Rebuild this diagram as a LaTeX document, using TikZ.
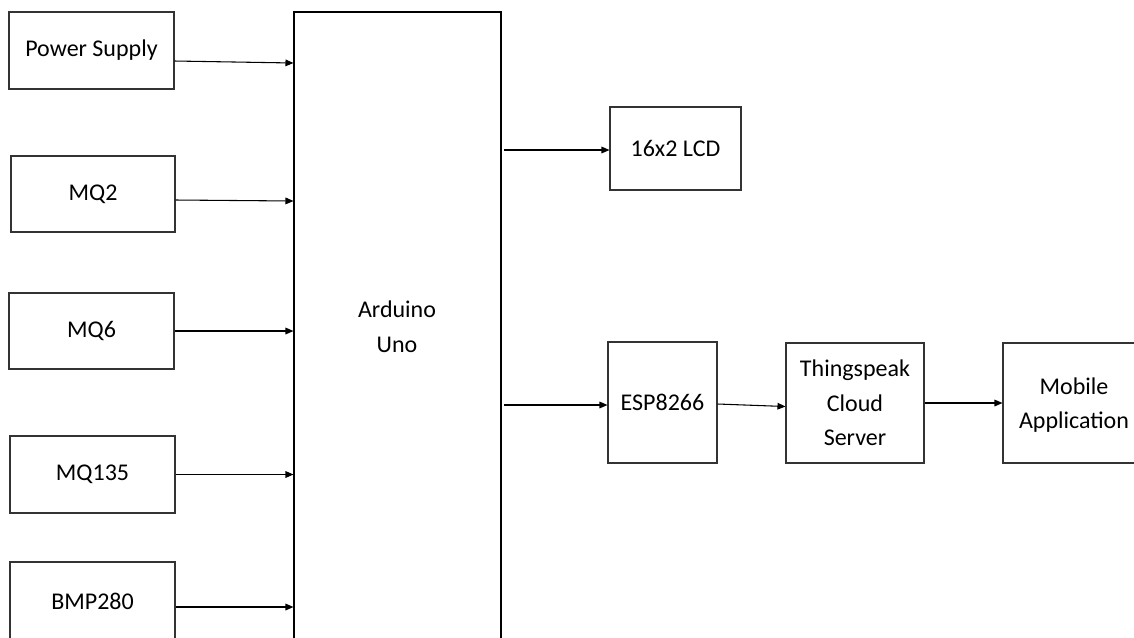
\documentclass[tikz,border=0pt]{standalone}
\usepackage{fontspec}
\setmainfont{Carlito}
\usetikzlibrary{arrows.meta,calc,fit}
\begin{document}
\begin{tikzpicture}[x=0.75pt,y=-0.75pt,
  box/.style={draw=black!80, line width=0.8pt, inner sep=0pt, rectangle, align=center,
    font=\fontsize{18}{26}\selectfont},
  arr/.style={draw=black, line width=0.8pt, -{Triangle[length=6pt,width=5pt]}},
  lbl/.style={align=center, font=\fontsize{18}{26}\selectfont, inner sep=0pt}]
\useasboundingbox (0,0) rectangle (1134,637);
\clip (0,0) rectangle (1134,637);
\node[box, fit={(9,12)(174,89)}] (ps) {};
\node[lbl] at (ps.center) {Power Supply};
\node[box, fit={(11,156)(175,232)}] (mq2) {};
\node[lbl] at (mq2.center) {MQ2};
\node[box, fit={(9,293)(174,369)}] (mq6) {};
\node[lbl] at (mq6.center) {MQ6};
\node[box, fit={(10,436)(175,513)}] (mq135) {};
\node[lbl] at (mq135.center) {MQ135};
\node[box, fit={(10,562)(175,640)}] (bmp) {};
\node[lbl] at (bmp.center) {BMP280};
\node[box, draw=black, fit={(294,12)(501,660)}] (ard) {};
\node[lbl] (ardt) at (397,327) {Arduino\\Uno};
\node[box, fit={(610,107)(741,190)}] (lcd) {};
\node[lbl] at (lcd.center) {16x2 LCD};
\node[box, fit={(608,342)(717,463)}] (esp) {};
\node[lbl] at (esp.center) {ESP8266};
\node[box, fit={(786,343)(924,463)}] (ts) {};
\node[lbl] at (ts.center) {Thingspeak\\Cloud\\Server};
\node[box, fit={(1003,343)(1145,463)}] (mob) {};
\node[lbl] at (1074,405) {Mobile\\Application};

\draw[arr] ($(ps.east)+(0,10.5)$) -- ($(ps.east -| ard.west)+(0,12.5)$);
\draw[arr] ($(mq2.east)+(0,6)$) -- ($(mq2.east -| ard.west)+(0,7)$);
\draw[arr] (mq6.east) -- (mq6.east -| ard.west);
\draw[arr] (mq135.east) -- (mq135.east -| ard.west);
\draw[arr] ($(bmp.east)+(0,6)$) -- ($(bmp.east -| ard.west)+(0,6)$);
\draw[arr, shorten <=2] ($(lcd.west -| ard.east)+(0,1.5)$) -- ($(lcd.west)+(0,1.5)$);
\draw[arr, shorten <=2] ($(esp.west -| ard.east)+(0,2.5)$) -- ($(esp.west)+(0,2.5)$);
\draw[arr] ($(esp.east)+(0,1.5)$) -- ($(ts.west)+(0,3.5)$);
\draw[arr] (ts.east) -- (ts.east -| mob.west);
\end{tikzpicture}
\end{document}
